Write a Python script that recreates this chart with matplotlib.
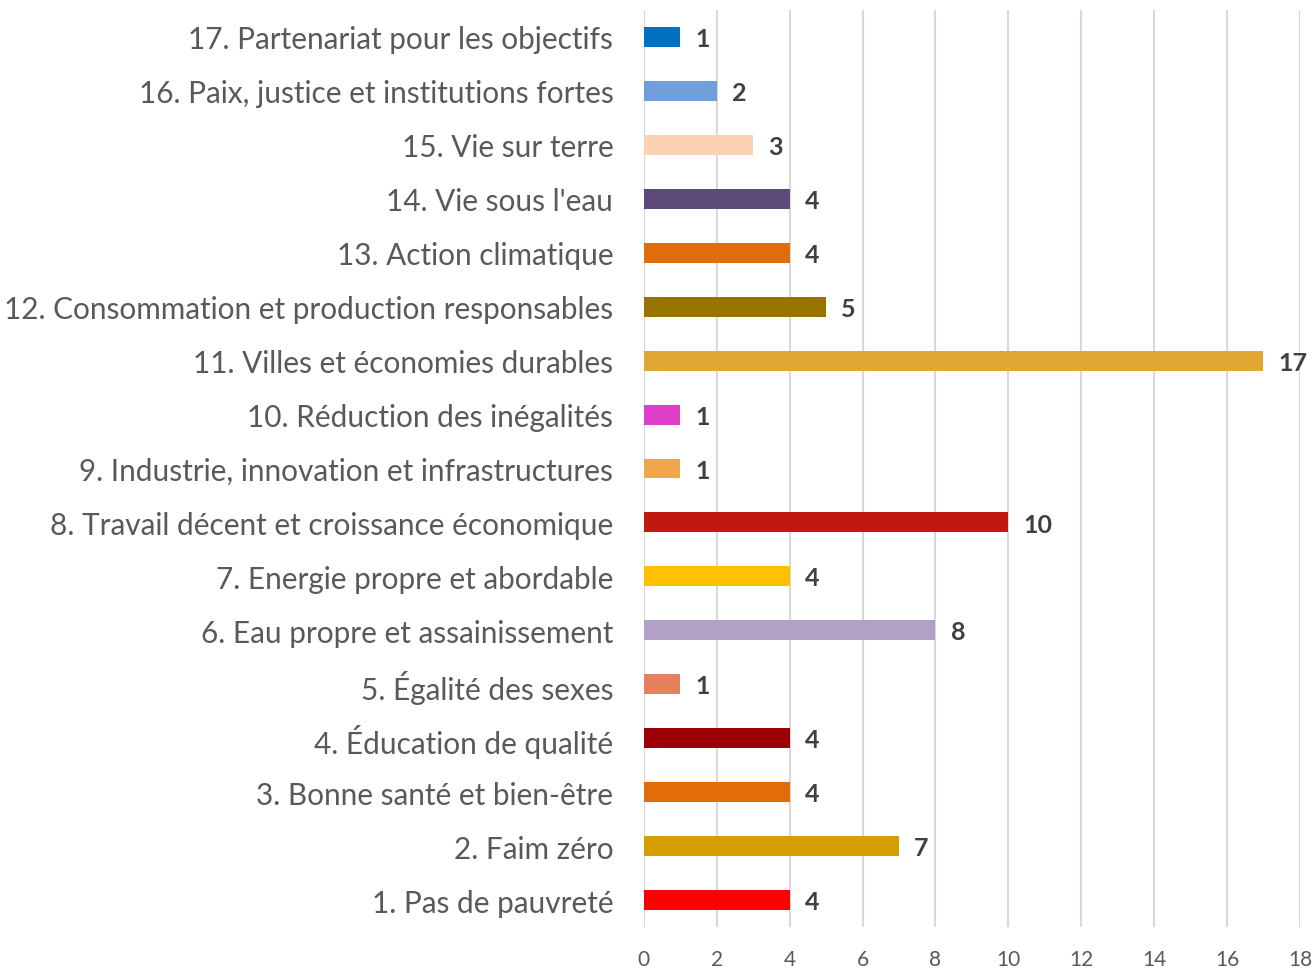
import numpy as np
import matplotlib.pyplot as plt

# data (bottom to top)
labels = [
    "1. Pas de pauvreté",
    "2. Faim zéro",
    "3. Bonne santé et bien-être",
    "4. Éducation de qualité",
    "5. Égalité des sexes",
    "6. Eau propre et assainissement",
    "7. Energie propre et abordable",
    "8. Travail décent et croissance économique",
    "9. Industrie, innovation et infrastructures",
    "10. Réduction des inégalités",
    "11. Villes et économies durables",
    "12. Consommation et production responsables",
    "13. Action climatique",
    "14. Vie sous l'eau",
    "15. Vie sur terre",
    "16. Paix, justice et institutions fortes",
    "17. Partenariat pour les objectifs",
]
values = [4, 7, 4, 4, 1, 8, 4, 10, 1, 1, 17, 5, 4, 4, 3, 2, 1]
colors = [
    "#FF0000", "#D4A000", "#E36C0A", "#9C0006", "#E57F5C", "#B2A1C7",
    "#FFC000", "#C0190F", "#F0A64A", "#DD3FC8", "#E0A832", "#977300",
    "#E36C0A", "#5E4A7A", "#FBD3B4", "#6FA0DC", "#0070C0",
]

plt.rcParams['font.family'] = ['Lato', 'DejaVu Sans']

fig = plt.figure(figsize=(13.14, 9.70), dpi=100)
ax = fig.add_axes([0.490, 0.0433, 0.4993, 0.9454])

y = np.arange(len(labels))
ax.barh(y, values, height=0.37, color=colors, zorder=3)

for yi, v in zip(y, values):
    ax.text(v + 0.42, yi - 0.03, str(v), va='center', ha='left',
            fontsize=18, fontweight='bold', color='#404040')

ax.set_xlim(0, 18)
ax.set_ylim(-0.5, len(labels) - 0.5)
ax.set_xticks(range(0, 19, 2))
ax.set_yticks(y)
ax.set_yticklabels(labels)

ax.grid(axis='x', color='#D9D9D9', linewidth=1.5, zorder=0)
for s in ax.spines.values():
    s.set_visible(False)
ax.tick_params(axis='y', length=0, pad=22, labelsize=21.4, labelcolor='#595959')
ax.tick_params(axis='x', length=0, pad=16, labelsize=15, labelcolor='#595959')

fig.savefig("out.png", dpi=100)
